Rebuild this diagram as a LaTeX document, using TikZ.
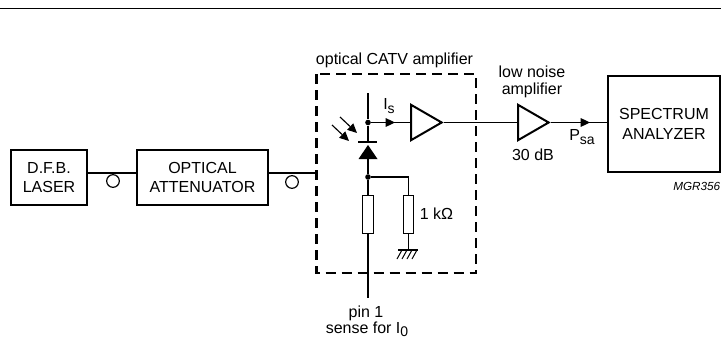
\documentclass[tikz,border=0pt]{standalone}
\usepackage{fontspec}
\setmainfont{Liberation Sans}
\usetikzlibrary{positioning,arrows.meta,shapes.geometric}
\newcommand{\lowtxt}[1]{\raisebox{-0.4ex}{\fontsize{10.5}{12}\selectfont #1}}
\begin{document}
\begin{tikzpicture}[
  x=0.75pt, y=-0.75pt,
  unit/.style={draw, line width=1.5pt, inner sep=0pt, align=center, font=\fontsize{12}{14.5}\selectfont},
  lbl/.style={inner sep=0pt, align=center, font=\fontsize{12}{12.5}\selectfont},
  wire/.style={line width=0.85pt},
  amp/.style={draw, line width=1.5pt, isosceles triangle, isosceles triangle apex angle=60, inner sep=0pt, minimum height=23pt, anchor=west},
  res/.style={draw, line width=0.85pt, minimum width=8pt, minimum height=28pt, inner sep=0pt},
  dot/.style={circle, fill, inner sep=0pt, minimum size=4.2pt},
  fibre/.style={circle, draw, line width=0.9pt, inner sep=0pt, minimum size=9.5pt},
  sig/.style={wire, -{Triangle[length=7pt,width=6.5pt]}},
]
\useasboundingbox (0,0) rectangle (721,339);
\coordinate (rulel) at (0,8.5);
\coordinate (ruler) at (721,8.5);
\draw[line width=1.2pt] (rulel) -- (ruler);

% blocks
\node[unit, minimum width=57pt, minimum height=41pt] (dfb) at (49,177.5) {D.F.B.\\LASER};
\node[unit, minimum width=98pt, minimum height=41pt] (atten) at (202.5,177.5) {OPTICAL\\ATTENUATOR};
\node[unit, minimum width=84pt, minimum height=72pt] (spec) at (664,124) {SPECTRUM\\ANALYZER};
\draw[line width=1.6pt, dash pattern=on 7.5pt off 4.5pt] (316.5,74) rectangle (476,273);
\coordinate (dashw) at (316.5,173);

% fibre links
\draw[wire] (dfb.east |- 0,173) -- (atten.west |- 0,173);
\draw[wire] (atten.east |- 0,173) -- (dashw);
\node[fibre] (f1) at (113,181) {};
\node[fibre] (f2) at (292,182) {};

% amplifiers
\node[amp] (a1) at (410,122.5) {};
\node[amp] (a2) at (517,122.5) {};

% photodiode branch
\node[dot] (j1) at (368,122.5) {};
\node[dot] (j2) at (368,177) {};
\coordinate (top) at (368,93);
\coordinate (bar) at (368,142);
\coordinate (pin) at (368,298);
\draw[wire] (top) -- (j1) -- (bar);
\draw[line width=1.5pt] (358,142) -- (377,142);
\fill (368,145) -- (377.5,159) -- (358.5,159) -- cycle;
\draw[wire] (368,159) -- (j2);
\draw[sig] (332,125) -- (349,141);
\draw[sig] (340,117) -- (357,133);

% resistors
\node[res] (r1) at (368,214.5) {};
\node[res] (r2) at (408.5,214.5) {};
\draw[wire] (j2) -- (r1);
\draw[wire] (r1) -- (pin);
\draw[wire] (j2) -| (r2);
\coordinate (gnd) at (408.5,249.5);
\draw[wire] (r2) -- (gnd);
\draw[line width=1.5pt] (398,249.5) -- (418,249.5);
\foreach \xx in {402,407,412,417}{
  \draw[line width=0.75pt] (\xx,250) -- (\xx-5,259);
}

% signal path
\draw[wire] (j1) -- (a1.west);
\draw[sig] (j1) -- (395,122.5);
\draw[wire] (a1.east) -- (a2.west);
\draw[wire] (a2.east) -- (spec.west |- a2.east);
\draw[sig] (a2.east) -- (590,122.5);

% labels
\node[lbl] (title) at (394.5,60.5) {optical CATV amplifier};
\node[lbl] (lna) at (532,82) {low noise\\amplifier};
\node[lbl] (gain) at (533,155) {30 dB};
\node[lbl] (psa) at (582,137) {P\lowtxt{sa}};
\node[lbl] (is) at (389,106) {I\lowtxt{s}};
\node[lbl] (kohm) at (436.5,214) {1 kΩ};
\node[lbl] (pinno) at (366,313) {pin 1};
\node[lbl] (sense) at (367,329.5) {sense for I\lowtxt{0}};
\node[inner sep=0pt, font=\fontsize{8.8}{10}\selectfont\itshape, anchor=east] (code) at (720.5,186) {MGR356};
\end{tikzpicture}
\end{document}
